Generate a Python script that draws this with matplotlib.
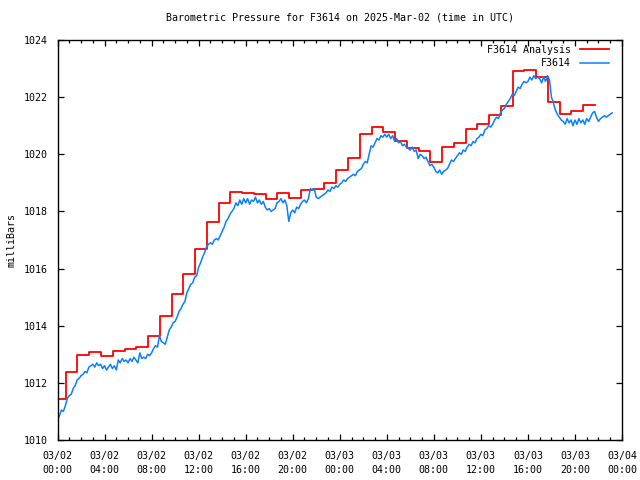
import numpy as np
import matplotlib
matplotlib.use("Agg")
import matplotlib.pyplot as plt
from matplotlib.ticker import MultipleLocator

# ---- data ----
title = "Barometric Pressure for F3614 on 2025-Mar-02 (time in UTC)"
ylabel = "milliBars"
series_names = ["F3614 Analysis", "F3614"]

# hourly analysis steps (hours from 03/02 00:00)
analysis_hours = [h - 0.3 for h in range(46)] + [45.7]
analysis_vals = [
    1011.42, 1012.37, 1012.97, 1013.07, 1012.93, 1013.11, 1013.19, 1013.25, 1013.63, 1014.33,
    1015.11, 1015.81, 1016.68, 1017.62, 1018.28, 1018.67, 1018.63, 1018.60, 1018.43, 1018.63,
    1018.46, 1018.76, 1018.78, 1018.98, 1019.45, 1019.86, 1020.70, 1020.94, 1020.77, 1020.46,
    1020.21, 1020.11, 1019.72, 1020.27, 1020.38, 1020.87, 1021.05, 1021.37, 1021.69, 1022.90,
    1022.95, 1022.70, 1021.84, 1021.40, 1021.50, 1021.71, 1021.71,
]

# station observations every 10 minutes
obs_vals = [
    1010.70, 1010.85, 1011.05, 1011.00, 1011.20, 1011.45,
    1011.55, 1011.60, 1011.80, 1011.90, 1012.10, 1012.15,
    1012.25, 1012.30, 1012.40, 1012.35, 1012.55, 1012.60,
    1012.65, 1012.55, 1012.70, 1012.60, 1012.65, 1012.50,
    1012.60, 1012.45, 1012.55, 1012.65, 1012.50, 1012.60,
    1012.45, 1012.80, 1012.70, 1012.85, 1012.75, 1012.80,
    1012.70, 1012.85, 1012.75, 1012.90, 1012.80, 1012.70,
    1013.05, 1012.85, 1012.90, 1012.85, 1013.00, 1012.95,
    1013.05, 1013.20, 1013.30, 1013.25, 1013.65, 1013.45,
    1013.40, 1013.35, 1013.60, 1013.85, 1013.95, 1014.10,
    1014.15, 1014.30, 1014.50, 1014.60, 1014.75, 1014.85,
    1015.15, 1015.30, 1015.45, 1015.50, 1015.70, 1015.75,
    1016.05, 1016.20, 1016.40, 1016.55, 1016.75, 1016.85,
    1016.90, 1016.85, 1017.00, 1017.05, 1017.00, 1017.15,
    1017.30, 1017.45, 1017.65, 1017.75, 1017.90, 1018.00,
    1018.10, 1018.30, 1018.20, 1018.40, 1018.25, 1018.45,
    1018.30, 1018.45, 1018.25, 1018.40, 1018.35, 1018.50,
    1018.30, 1018.40, 1018.25, 1018.35, 1018.15, 1018.05,
    1018.10, 1018.00, 1018.05, 1018.10, 1018.30, 1018.35,
    1018.45, 1018.30, 1018.40, 1018.20, 1017.65, 1017.95,
    1018.05, 1017.95, 1018.15, 1018.10, 1018.25, 1018.35,
    1018.40, 1018.30, 1018.45, 1018.80, 1018.75, 1018.80,
    1018.50, 1018.45, 1018.50, 1018.55, 1018.60, 1018.65,
    1018.75, 1018.70, 1018.85, 1018.80, 1018.90, 1018.85,
    1018.95, 1019.00, 1019.10, 1019.05, 1019.15, 1019.20,
    1019.25, 1019.30, 1019.25, 1019.40, 1019.45, 1019.50,
    1019.65, 1019.75, 1019.70, 1020.00, 1020.30, 1020.25,
    1020.40, 1020.55, 1020.50, 1020.65, 1020.60, 1020.70,
    1020.60, 1020.70, 1020.55, 1020.65, 1020.45, 1020.55,
    1020.40, 1020.45, 1020.30, 1020.35, 1020.25, 1020.20,
    1020.15, 1020.25, 1020.10, 1020.15, 1019.85, 1020.00,
    1019.95, 1019.85, 1019.90, 1019.75, 1019.60, 1019.65,
    1019.55, 1019.40, 1019.35, 1019.45, 1019.30, 1019.40,
    1019.45, 1019.50, 1019.65, 1019.80, 1019.75, 1019.85,
    1019.95, 1020.05, 1020.00, 1020.15, 1020.10, 1020.25,
    1020.35, 1020.30, 1020.45, 1020.40, 1020.55, 1020.60,
    1020.70, 1020.65, 1020.85, 1020.90, 1021.00, 1020.95,
    1021.05, 1021.20, 1021.30, 1021.25, 1021.45, 1021.55,
    1021.60, 1021.75, 1021.85, 1021.95, 1022.10, 1022.05,
    1022.20, 1022.35, 1022.30, 1022.45, 1022.55, 1022.50,
    1022.55, 1022.70, 1022.60, 1022.75, 1022.65, 1022.70,
    1022.65, 1022.50, 1022.70, 1022.55, 1022.75, 1022.60,
    1022.00, 1021.80, 1021.55, 1021.40, 1021.30, 1021.20,
    1021.15, 1021.05, 1021.25, 1021.10, 1021.20, 1021.00,
    1021.20, 1021.05, 1021.25, 1021.10, 1021.20, 1021.05,
    1021.25, 1021.15, 1021.30, 1021.45, 1021.50, 1021.30,
    1021.15, 1021.25, 1021.30, 1021.35, 1021.30, 1021.35,
    1021.40, 1021.45,
]
obs_hours = [i / 6.0 for i in range(len(obs_vals))]

xtick_hours = [0, 4, 8, 12, 16, 20, 24, 28, 32, 36, 40, 44, 48]
xtick_labels = ["03/02\n00:00", "03/02\n04:00", "03/02\n08:00", "03/02\n12:00",
                "03/02\n16:00", "03/02\n20:00", "03/03\n00:00", "03/03\n04:00",
                "03/03\n08:00", "03/03\n12:00", "03/03\n16:00", "03/03\n20:00",
                "03/04\n00:00"]
yticks = [1010, 1012, 1014, 1016, 1018, 1020, 1022, 1024]

# ---- plot ----
plt.rcParams['font.family'] = ['DejaVu Sans Mono']
fs = 7.2
fig = plt.figure(figsize=(6.4, 4.8), dpi=100)
ax = fig.add_axes([57.5/640, 1 - 440/480, (622 - 57.5)/640, 400/480])

ax.plot(analysis_hours, analysis_vals, drawstyle='steps-post', color='#ff0000',
        lw=1.3, label=series_names[0])
ax.plot(obs_hours, obs_vals, color='#0a80ff', lw=1.1, label=series_names[1])

ax.set_xlim(0, 48)
ax.set_ylim(1010, 1024)
ax.set_xticks(xtick_hours)
ax.set_xticklabels(xtick_labels, fontsize=fs, linespacing=1.5)
ax.xaxis.set_minor_locator(MultipleLocator(1))
ax.set_yticks(yticks)
ax.set_yticklabels([str(v) for v in yticks], fontsize=fs)
ax.tick_params(which='major', direction='in', length=4, width=0.9,
               top=True, right=True)
ax.tick_params(axis='x', which='major', pad=8)
ax.tick_params(axis='y', which='major', pad=7)
ax.tick_params(which='minor', direction='in', length=2.2, width=0.9,
               top=True, bottom=True)
ax.tick_params(axis='y', which='minor', left=False, right=False)
for s in ax.spines.values():
    s.set_linewidth(1.0)
    s.set_color('black')

ax.set_title(title, fontsize=fs, pad=14)
fig.text(12/640, 1 - 240/480, ylabel, rotation=90, fontsize=fs,
         ha='center', va='center')

leg = ax.legend(loc='upper right', frameon=False, fontsize=fs, markerfirst=False,
                handlelength=2.9, handletextpad=0.9, labelspacing=0.35,
                borderaxespad=0.1, bbox_to_anchor=(0.985, 1.0))
for t in leg.get_texts():
    t.set_ha('right')
leg._legend_box.align = "right"

fig.savefig("out.png", dpi=100)
